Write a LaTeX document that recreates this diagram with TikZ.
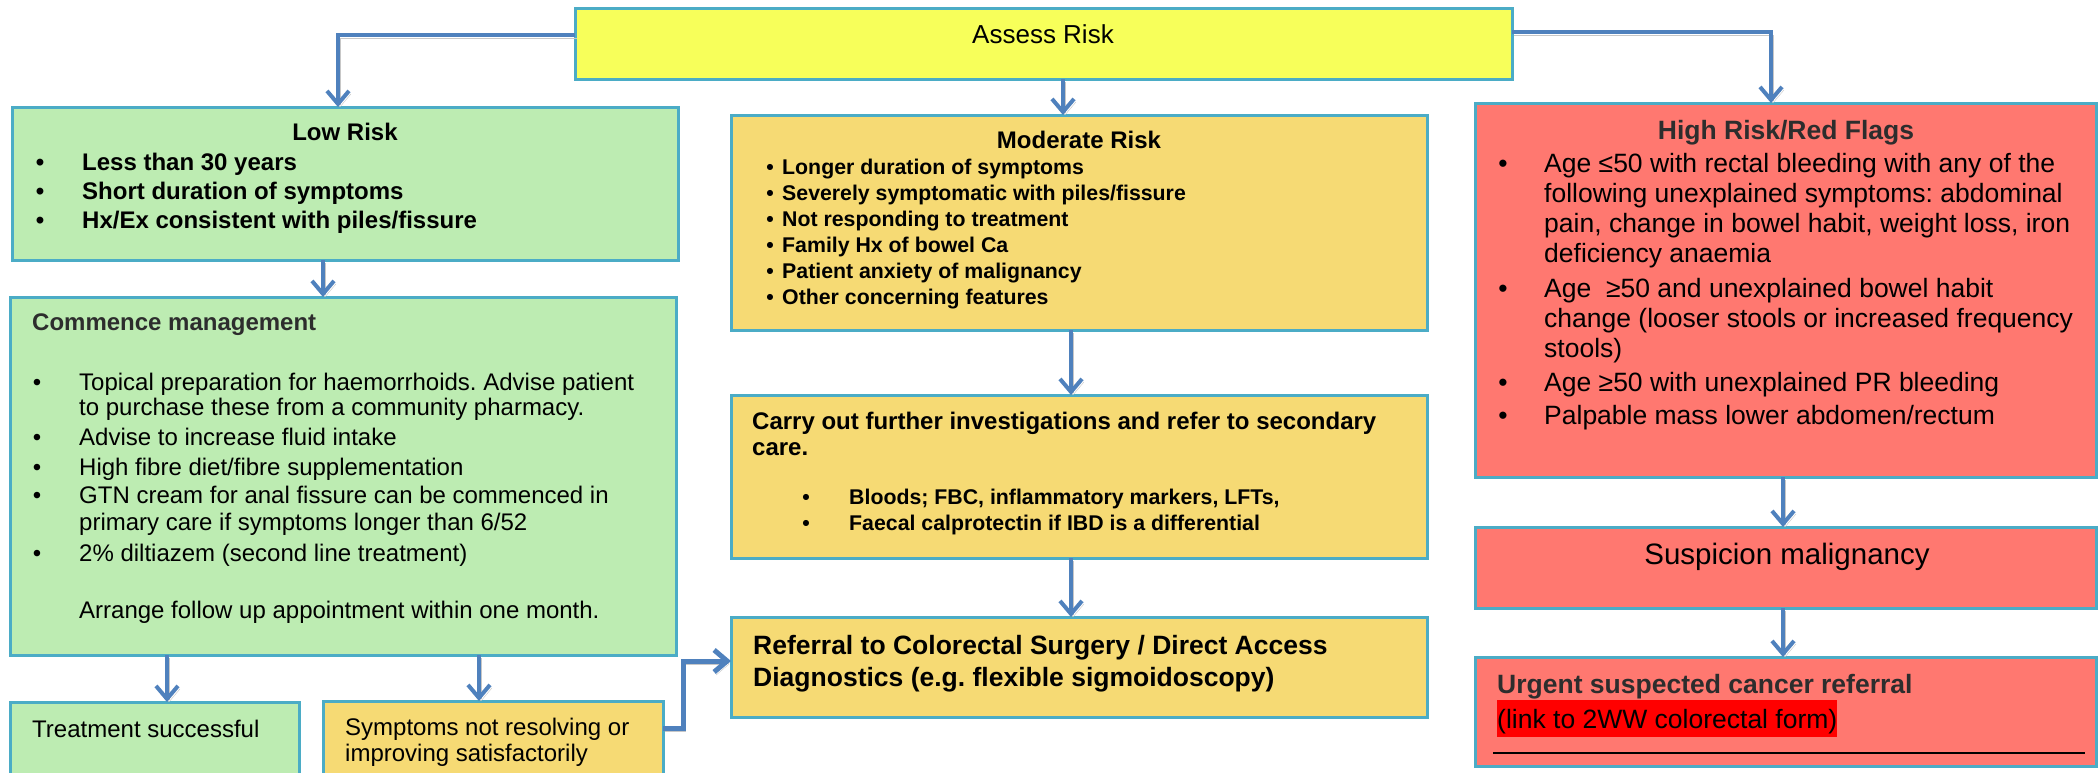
\documentclass[tikz,border=0pt]{standalone}
\usepackage{fontspec}
\setmainfont{Liberation Sans}
\usetikzlibrary{arrows.meta,calc}
\definecolor{cyell}{RGB}{247,255,90}
\definecolor{cgreen}{RGB}{189,236,178}
\definecolor{corange}{RGB}{246,218,116}
\definecolor{cred}{RGB}{255,120,112}
\definecolor{cbord}{RGB}{75,172,198}
\definecolor{carrow}{RGB}{79,129,189}
\definecolor{cdark}{RGB}{45,45,45}
\definecolor{chl}{RGB}{255,0,0}
\frenchspacing
\begin{document}
\begin{tikzpicture}[x=1pt,y=-1pt,
  box/.style={draw=cbord,line width=3pt,inner sep=0pt,outer sep=0pt,anchor=north west},
  arr/.style={draw=carrow,line width=4pt,-{Straight Barb[length=13pt,width=22pt]},
    preaction={draw=black!22,transform canvas={shift={(2pt,-3pt)}}}},
  tl/.style={anchor=base west,inner sep=0pt},
  tc/.style={anchor=base,inner sep=0pt},
  bul/.style={anchor=base,inner sep=0pt},
  fR/.style={font=\fontsize{24}{28}\selectfont},
  fB/.style={font=\bfseries\fontsize{24}{28}\selectfont},
  fBs/.style={font=\bfseries\fontsize{21.3}{25}\selectfont},
  fRL/.style={font=\fontsize{26.5}{30}\selectfont},
  fBL/.style={font=\bfseries\fontsize{26.5}{30}\selectfont},
]
\useasboundingbox (0,0) rectangle (2098,772);
\fill[white] (0,0) rectangle (2098,772);
\clip (0,0) rectangle (2098,772);

% boxes
\node[box,fill=cyell,minimum width=937pt,minimum height=71pt] (assess) at (575,8) {};
\node[box,fill=cgreen,minimum width=666pt,minimum height=153pt] (low) at (12,107) {};
\node[box,fill=corange,minimum width=696pt,minimum height=215pt] (mod) at (731,115) {};
\node[box,fill=cred,minimum width=621pt,minimum height=374pt] (high) at (1475,103) {};
\node[box,fill=cgreen,minimum width=666pt,minimum height=358pt] (comm) at (10,297) {};
\node[box,fill=corange,minimum width=696pt,minimum height=163pt] (carry) at (731,395) {};
\node[box,fill=cred,minimum width=621pt,minimum height=81pt] (susp) at (1475,527) {};
\node[box,fill=corange,minimum width=696pt,minimum height=100pt] (refer) at (731,617) {};
\node[box,fill=cred,minimum width=621pt,minimum height=109pt] (urgent) at (1475,657) {};
\node[box,fill=cgreen,minimum width=289pt,minimum height=90pt] (treat) at (10,702) {};
\node[box,fill=corange,minimum width=340pt,minimum height=90pt] (sympt) at (323,701) {};

% connectors
\draw[arr] ([yshift=8.5pt]assess.west) -| ([xshift=-7pt]low.north);
\draw[arr] ([yshift=11.5pt]assess.east) -| ([xshift=-14.5pt]high.north);
\draw[arr] ([xshift=-16pt]mod.north |- assess.south) -- ([xshift=-16pt]mod.north);
\draw[arr] ([xshift=-22pt]low.south) -- ([xshift=-22pt]low.south |- comm.north);
\draw[arr] ([xshift=-8pt]mod.south) -- ([xshift=-8pt]carry.north);
\draw[arr] ([xshift=-8pt]carry.south) -- ([xshift=-8pt]refer.north);
\draw[arr] ([xshift=-2.5pt]high.south) -- ([xshift=-2.5pt]susp.north);
\draw[arr] ([xshift=-2.5pt]susp.south) -- ([xshift=-2.5pt]urgent.north);
\draw[arr] ([xshift=12.5pt]treat.north |- comm.south) -- ([xshift=12.5pt]treat.north);
\draw[arr] ([xshift=-14pt]sympt.north |- comm.south) -- ([xshift=-14pt]sympt.north);
\draw[arr,line width=5pt] ([yshift=18pt]sympt.east) -- ++(20,0) |- ([yshift=6pt]refer.west);

% Assess
\node[tc,font=\fontsize{26}{30}\selectfont] (assesst) at (1043,43) {Assess Risk};

% Low risk
\node[tc,fB] (lowtitle) at (345,140) {Low Risk};
\foreach \yy/\t [count=\i] in {170/{Less than 30 years},199/{Short duration of symptoms},228/{Hx/Ex consistent with piles/fissure}}{
  \node[bul,fB] (lowb\i) at (40,\yy) {•};
  \node[tl,fB] (lowt\i) at (82,\yy) {\t};
}

% Moderate risk
\node[tc,fB] (modtitle) at (1079,148) {Moderate Risk};
\foreach \yy/\t [count=\i] in {174/{Longer duration of symptoms},200/{Severely symptomatic with piles/fissure},226/{Not responding to treatment},252/{Family Hx of bowel Ca},278/{Patient anxiety of malignancy},304/{Other concerning features}}{
  \node[bul,fBs] (modb\i) at (770,\yy) {•};
  \node[tl,fBs] (modt\i) at (782,\yy) {\t};
}

% High risk
\node[tc,fBL,text=cdark] (hightitle) at (1786,139) {High Risk/Red Flags};
\foreach \yy [count=\i] in {172,297,391,424}{
  \node[bul,fRL] (highb\i) at (1503,\yy) {•};
}
\foreach \yy/\t [count=\i] in {172/{Age ≤50 with rectal bleeding with any of the},202/{following unexplained symptoms: abdominal},232/{pain, change in bowel habit, weight loss, iron},262/{deficiency anaemia},297/{Age \ ≥50 and unexplained bowel habit},327/{change (looser stools or increased frequency},357/{stools)},391/{Age ≥50 with unexplained PR bleeding},424/{Palpable mass lower abdomen/rectum}}{
  \node[tl,fRL] (hight\i) at (1544,\yy) {\t};
}

% Commence management
\node[tl,fB,text=cdark] (commtitle) at (32,330) {Commence management};
\foreach \yy [count=\i] in {390,445,475,503,561}{
  \node[bul,fR] (commb\i) at (37,\yy) {•};
}
\foreach \yy/\t [count=\i] in {390/{Topical preparation for haemorrhoids. Advise patient},415/{to purchase these from a community pharmacy.},445/{Advise to increase fluid intake},475/{High fibre diet/fibre supplementation},503/{GTN cream for anal fissure can be commenced in},530/{primary care if symptoms longer than 6/52},561/{2\% diltiazem (second line treatment)},618/{Arrange follow up appointment within one month.}}{
  \node[tl,fR] (commt\i) at (79,\yy) {\t};
}

% Carry out
\node[tl,fB] (carryt1) at (752,429) {Carry out further investigations and refer to secondary};
\node[tl,fB] (carryt2) at (752,455) {care.};
\foreach \yy/\t [count=\i] in {504/{Bloods; FBC, inflammatory markers, LFTs,},530/{Faecal calprotectin if IBD is a differential}}{
  \node[bul,fBs] (carryb\i) at (806,\yy) {•};
  \node[tl,fBs] (carryl\i) at (849,\yy) {\t};
}

% Referral
\node[tl,fBL] (refert1) at (753,654) {Referral to Colorectal Surgery / Direct Access};
\node[tl,fBL] (refert2) at (753,686) {Diagnostics (e.g. flexible sigmoidoscopy)};

% Suspicion
\node[tc,font=\fontsize{29.5}{34}\selectfont] (suspt) at (1787,564) {Suspicion malignancy};

% Urgent
\node[tl,fBL,text=cdark] (urgt1) at (1497,693) {Urgent suspected cancer referral};
\node[tl,fRL,fill=chl,text height=28pt,text depth=9pt] (urgt2) at (1497,728) {(link to 2WW colorectal form)};
\draw[line width=2.5pt] ([xshift=18pt,yshift=13pt]urgent.south west) -- ([xshift=-11pt,yshift=13pt]urgent.south east);

% bottom boxes
\node[tl,fR] (treatt) at (32,737) {Treatment successful};
\node[tl,fR] (symptt1) at (345,735) {Symptoms not resolving or};
\node[tl,fR] (symptt2) at (345,761) {improving satisfactorily};
\end{tikzpicture}
\end{document}
